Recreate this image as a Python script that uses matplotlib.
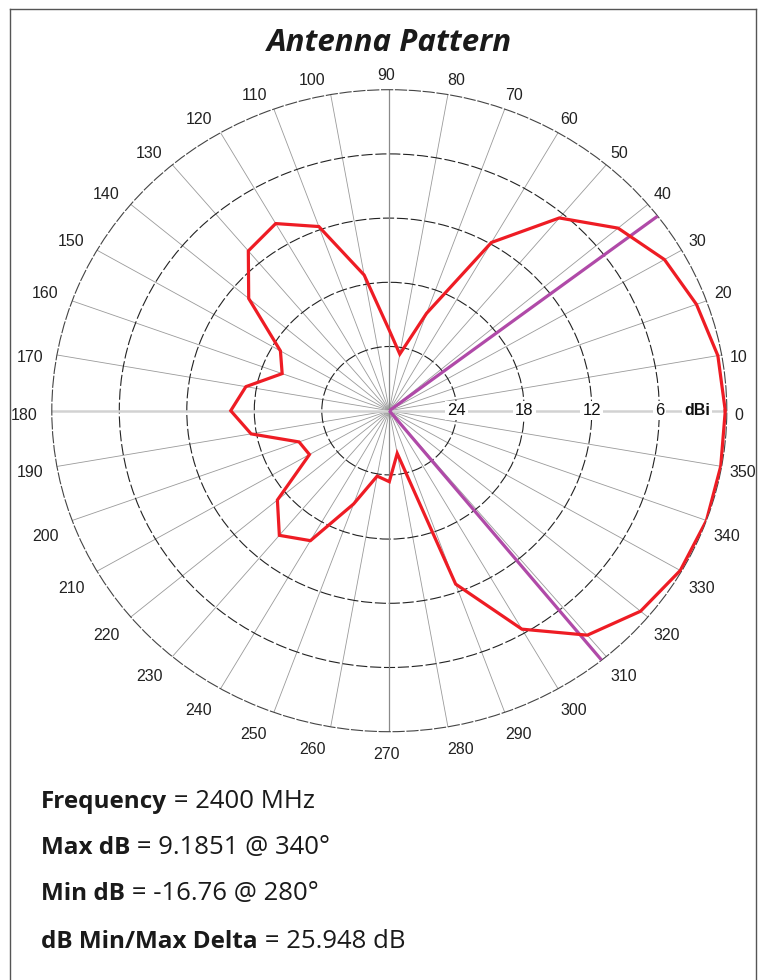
import numpy as np
import matplotlib
matplotlib.use("Agg")
import matplotlib.pyplot as plt
from matplotlib.lines import Line2D
from matplotlib.transforms import IdentityTransform

# Measured pattern (dBi) every 10 degrees
ANGLES_DEG = list(range(0, 360, 10))
GAIN_DBI = [9.05, 8.84, 8.24, 7.43, 5.73, 2.70, -2.66, -11.13, -15.44, -13.30,
            -7.94, -2.50, -0.62, -1.32, -4.50, -9.64, -10.68, -7.87, -6.72, -8.34,
            -12.28, -12.62, -7.83, -5.61, -6.79, -11.54, -14.61, -14.18, -16.7629, -3.57,
            2.76, 6.57, 8.34, 9.05, 9.1851, 9.10]
FREQUENCY_MHZ = 2400
DYNAMIC_RANGE_DB = 30
RING_STEPS_DB = [24, 18, 12, 6]          # dB below peak
THETA_LABELS = [str(a) for a in ANGLES_DEG]

TITLE_FONT = "Open Sans"
TEXT_FONT = "Open Sans"
TICK_FONT = "Liberation Sans"

gain = np.array(GAIN_DBI)
theta = np.deg2rad(ANGLES_DEG)
g_max = gain.max()
g_min = gain.min()
ang_max = ANGLES_DEG[int(gain.argmax())]
ang_min = ANGLES_DEG[int(gain.argmin())]
r_lo = g_max - DYNAMIC_RANGE_DB
r_hi = g_max


def beam_edge(direction):
    """Half-power (-3 dB) edge next to the peak, by linear interpolation."""
    n = len(gain)
    i = int(gain.argmax())
    target = g_max - 3.0
    while True:
        j = (i + direction) % n
        if gain[j] < target:
            a0 = ANGLES_DEG[i]
            a1 = ANGLES_DEG[j]
            if direction > 0 and a1 < a0:
                a1 += 360
            if direction < 0 and a1 > a0:
                a1 -= 360
            f = (gain[i] - target) / (gain[i] - gain[j])
            return np.deg2rad((a0 + f * (a1 - a0)) % 360)
        i = j


edges = [beam_edge(+1), beam_edge(-1)]

W, H = 759, 980
fig = plt.figure(figsize=(W / 100, H / 100), dpi=100)
fig.patch.set_facecolor("white")

# page frame
fr = dict(color="#555555", lw=1.0)
fig.add_artist(Line2D([9.5 / W, 9.5 / W], [0, 1 - 9.5 / H], **fr))
fig.add_artist(Line2D([9.5 / W, 755.5 / W], [1 - 9.5 / H, 1 - 9.5 / H], **fr))
fig.add_artist(Line2D([755.5 / W, 755.5 / W], [0, 1 - 9.5 / H], **fr))

cx, cy, rx, ry = 389.3, 410.7, 337.5, 321.0
ax = fig.add_axes([(cx - rx) / W, 1 - (cy + ry) / H, 2 * rx / W, 2 * ry / H],
                  projection="polar")
ax.set_aspect("auto")
ax.set_ylim(r_lo, r_hi)
ax.set_facecolor("none")

ax.set_thetagrids(ANGLES_DEG, [""] * len(ANGLES_DEG))
ax.xaxis.grid(True, color="#9a9a9a", lw=0.6)
ax.set_rgrids([g_max - s for s in RING_STEPS_DB], [""] * len(RING_STEPS_DB))
ax.yaxis.grid(True, color="#222222", lw=0.8, linestyle=(0, (10, 2.5)))
ax.spines["polar"].set_color("#444444")
ax.spines["polar"].set_linewidth(0.8)
ax.spines["polar"].set_linestyle((0, (10, 2.5)))

# angle labels just outside the outer ring
GAP_PX, SHIFT_X_PX, SHIFT_Y_PX = 11.0, -3.0, -4.3
px2pt = 72.0 / 100
for a, lab in zip(ANGLES_DEG, THETA_LABELS):
    c, s = np.cos(np.deg2rad(a)), np.sin(np.deg2rad(a))
    ha = "left" if c > 0.1 else ("right" if c < -0.1 else "center")
    va = "bottom" if s > 0.2 else ("top" if s < -0.2 else "center")
    ax.annotate(lab, xy=(np.deg2rad(a), r_hi), xycoords="data",
                xytext=((GAP_PX * c + SHIFT_X_PX) * px2pt,
                        (GAP_PX * s + SHIFT_Y_PX) * px2pt),
                textcoords="offset points", ha=ha, va=va, fontsize=11.5,
                family=TICK_FONT, color="#222222", annotation_clip=False)

# main axes through the origin
for t in (0, np.pi):
    ax.plot([t, t], [r_lo, r_hi], color="#d2d2d2", lw=1.8, zorder=2)
for t in (np.pi / 2, 3 * np.pi / 2):
    ax.plot([t, t], [r_lo, r_hi], color="#8a8a8a", lw=0.9, zorder=2)

# ring labels along 0 deg
for s in RING_STEPS_DB:
    ax.text(0, g_max - s, str(s), ha="center", va="center", fontsize=12,
            family=TICK_FONT, color="#111111", zorder=4,
            bbox=dict(facecolor="white", edgecolor="none", pad=1.5))
ax.text(0, r_lo + 0.912 * DYNAMIC_RANGE_DB, "dBi", ha="center", va="center",
        fontsize=11.5, family=TICK_FONT, fontweight="bold", color="#111111", zorder=4,
        bbox=dict(facecolor="white", edgecolor="none", pad=1.5))

# beamwidth markers
for e in edges:
    ax.plot([e, e], [r_lo, r_hi], color="#b04aa8", lw=2.3, zorder=5,
            solid_capstyle="butt")

# pattern
tt = np.append(theta, theta[0])
gg = np.append(gain, gain[0])
ax.plot(tt, gg, color="#ee1c24", lw=2.3, zorder=6, solid_joinstyle="miter")

fig.text(389 / W, 1 - 43 / H, "Antenna Pattern", ha="center", va="center",
         fontsize=22.5, family=TITLE_FONT, fontweight="bold", style="italic",
         color="#1a1a1a")

lines = [
    ("Frequency", f" = {FREQUENCY_MHZ} MHz"),
    ("Max dB", f" = {g_max:.4f} @ {ang_max}\u00b0"),
    ("Min dB", f" = {g_min:.2f} @ {ang_min}\u00b0"),
    ("dB Min/Max Delta", f" = {g_max - g_min:.3f} dB"),
]
ys = [802, 848, 894, 942]
bold_parts = []
for (b, rest), y in zip(lines, ys):
    t1 = fig.text(41 / W, 1 - y / H, b, ha="left", va="center", fontsize=17.5,
                  family=TEXT_FONT, fontweight="bold", color="#1a1a1a")
    bold_parts.append((t1, rest))

# regular part of each line continues right after the bold part
fig.canvas.draw()
for t1, rest in bold_parts:
    bb = t1.get_window_extent()
    fig.text(bb.x1, bb.y0, rest, fontsize=18.5, family=TEXT_FONT,
             color="#1a1a1a", ha="left", va="bottom",
             transform=IdentityTransform())

fig.savefig("out.png", dpi=100, facecolor="white")
